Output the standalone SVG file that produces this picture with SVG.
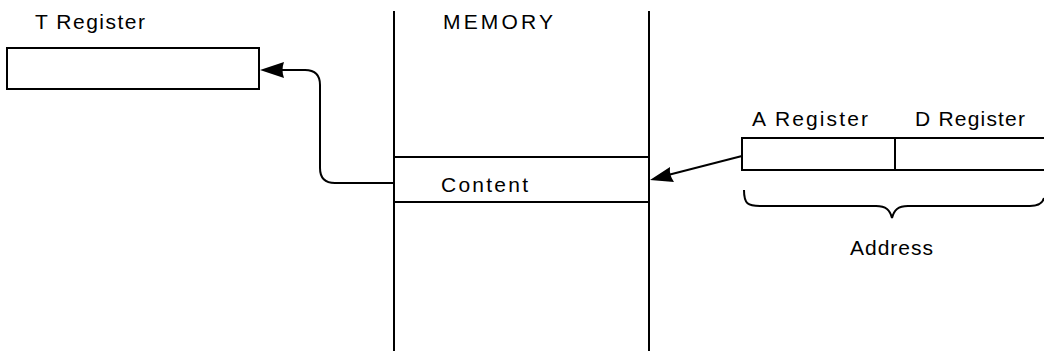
<svg xmlns="http://www.w3.org/2000/svg" width="1044" height="351" viewBox="0 0 1044 351">
<defs>
<style>
.l{fill:none;stroke:#000;stroke-width:2}
.a{fill:#000;stroke:none}
.t{font-family:"Liberation Sans",Arial,sans-serif;font-size:21px;fill:#000}
</style>
</defs>
<rect width="1044" height="351" fill="#fff"/>
<g id="t-register">
<text class="t" x="35" y="29" textLength="110" lengthAdjust="spacing">T Register</text>
<rect class="l" x="7" y="48" width="252" height="41"/>
</g>
<g id="memory">
<line class="l" x1="394" y1="11" x2="394" y2="351"/>
<line class="l" x1="649" y1="11" x2="649" y2="351"/>
<text class="t" x="443" y="29" textLength="110" lengthAdjust="spacing">MEMORY</text>
</g>
<g id="content">
<line class="l" x1="394" y1="157" x2="649" y2="157"/>
<line class="l" x1="394" y1="202" x2="649" y2="202"/>
<text class="t" x="441" y="192" textLength="87" lengthAdjust="spacing">Content</text>
</g>
<g id="a-register">
<text class="t" x="752" y="126" textLength="116" lengthAdjust="spacing">A Register</text>
<rect class="l" x="742" y="138" width="153" height="32"/>
</g>
<g id="d-register">
<text class="t" x="915" y="126" textLength="110" lengthAdjust="spacing">D Register</text>
<path class="l" d="M895,138 H1050 M895,170 H1050"/>
</g>
<g id="address">
<path class="l" d="M744,190 C744,204 748,206 760,206 H876 C886,206 890,210 892,218 C894,210 898,206 908,206 H1030 C1040,206 1043,202 1044,198"/>
<text class="t" x="850" y="255" textLength="83" lengthAdjust="spacing">Address</text>
</g>
<g id="connectors">
<path class="l" d="M394,183 H335 Q320,183 320,168 V85 Q320,70 305,70 H280"/>
<path class="a" d="M260,70 L284,62 Q281,70 284,78 Z"/>
<path class="l" d="M742,156 L668,175"/>
<path class="a" d="M650,180 L670,167 Q669,175 674,182 Z"/>
</g>
</svg>
